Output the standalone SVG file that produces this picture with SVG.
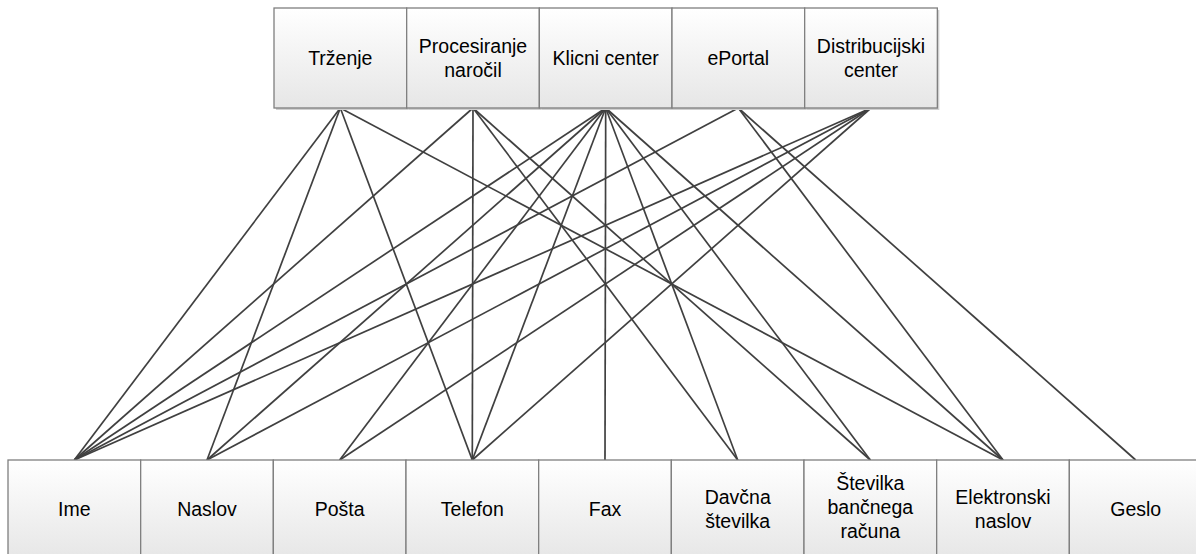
<svg xmlns="http://www.w3.org/2000/svg" width="1196" height="554" viewBox="0 0 1196 554">
<defs>
<linearGradient id="g" x1="0" y1="0" x2="0" y2="1">
<stop offset="0" stop-color="#ffffff"/>
<stop offset="1" stop-color="#e6e6e6"/>
</linearGradient>
<style>
.box{fill:url(#g);stroke:#7f7f7f;stroke-width:1.3}
.sh{fill:#cfcfcf}
.t{font-family:"Liberation Sans",Arial,sans-serif;font-size:19.5px;fill:#000;text-anchor:middle}
.c line{stroke:#404040;stroke-width:1.7}
</style>
</defs>
<rect width="1196" height="554" fill="#ffffff"/>
<g id="connectors" class="c">
<line x1="340.3" y1="108" x2="74.3" y2="460"/>
<line x1="340.3" y1="108" x2="207" y2="460"/>
<line x1="340.3" y1="108" x2="472.3" y2="460"/>
<line x1="340.3" y1="108" x2="1003" y2="460"/>
<line x1="473" y1="108" x2="74.3" y2="460"/>
<line x1="473" y1="108" x2="472.3" y2="460"/>
<line x1="473" y1="108" x2="737.7" y2="460"/>
<line x1="473" y1="108" x2="870.3" y2="460"/>
<line x1="605.7" y1="108" x2="74.3" y2="460"/>
<line x1="605.7" y1="108" x2="207" y2="460"/>
<line x1="605.7" y1="108" x2="339.7" y2="460"/>
<line x1="605.7" y1="108" x2="472.3" y2="460"/>
<line x1="605.7" y1="108" x2="605" y2="460"/>
<line x1="605.7" y1="108" x2="737.7" y2="460"/>
<line x1="605.7" y1="108" x2="870.3" y2="460"/>
<line x1="605.7" y1="108" x2="1003" y2="460"/>
<line x1="738.3" y1="108" x2="74.3" y2="460"/>
<line x1="738.3" y1="108" x2="1003" y2="460"/>
<line x1="738.3" y1="108" x2="1135.7" y2="460"/>
<line x1="871" y1="108" x2="74.3" y2="460"/>
<line x1="871" y1="108" x2="207" y2="460"/>
<line x1="871" y1="108" x2="339.7" y2="460"/>
<line x1="871" y1="108" x2="472.3" y2="460"/>
</g>
<g id="trzenje"><rect class="sh" x="276" y="10" width="132.67" height="100"/><rect class="box" x="274" y="8" width="132.67" height="100"/><text class="t" x="340.3" y="65">Trženje</text></g>
<g id="procesiranje"><rect class="sh" x="408.67" y="10" width="132.67" height="100"/><rect class="box" x="406.67" y="8" width="132.67" height="100"/><text class="t" x="473" y="53">Procesiranje</text><text class="t" x="473" y="77">naročil</text></g>
<g id="klicni"><rect class="sh" x="541.33" y="10" width="132.67" height="100"/><rect class="box" x="539.33" y="8" width="132.67" height="100"/><text class="t" x="605.7" y="65">Klicni center</text></g>
<g id="eportal"><rect class="sh" x="674" y="10" width="132.67" height="100"/><rect class="box" x="672" y="8" width="132.67" height="100"/><text class="t" x="738.3" y="65">ePortal</text></g>
<g id="distribucijski"><rect class="sh" x="806.67" y="10" width="132.67" height="100"/><rect class="box" x="804.67" y="8" width="132.67" height="100"/><text class="t" x="871" y="53">Distribucijski</text><text class="t" x="871" y="77">center</text></g>
<g id="ime"><rect class="box" x="8" y="460" width="132.67" height="100"/><text class="t" x="74.3" y="516">Ime</text></g>
<g id="naslov"><rect class="box" x="140.67" y="460" width="132.67" height="100"/><text class="t" x="207" y="516">Naslov</text></g>
<g id="posta"><rect class="box" x="273.33" y="460" width="132.67" height="100"/><text class="t" x="339.7" y="516">Pošta</text></g>
<g id="telefon"><rect class="box" x="406" y="460" width="132.67" height="100"/><text class="t" x="472.3" y="516">Telefon</text></g>
<g id="fax"><rect class="box" x="538.67" y="460" width="132.67" height="100"/><text class="t" x="605" y="516">Fax</text></g>
<g id="davcna"><rect class="box" x="671.33" y="460" width="132.67" height="100"/><text class="t" x="737.7" y="504">Davčna</text><text class="t" x="737.7" y="528">številka</text></g>
<g id="stevilka"><rect class="box" x="804" y="460" width="132.67" height="100"/><text class="t" x="870.3" y="490">Številka</text><text class="t" x="870.3" y="514">bančnega</text><text class="t" x="870.3" y="538">računa</text></g>
<g id="elektronski"><rect class="box" x="936.67" y="460" width="132.67" height="100"/><text class="t" x="1003" y="504">Elektronski</text><text class="t" x="1003" y="528">naslov</text></g>
<g id="geslo"><rect class="box" x="1069.33" y="460" width="132.67" height="100"/><text class="t" x="1135.7" y="516">Geslo</text></g>
</svg>
